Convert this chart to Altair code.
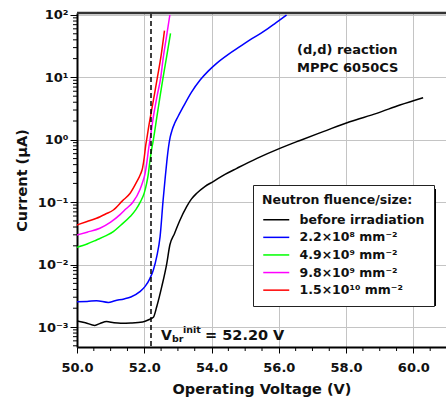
import altair as alt
import pandas as pd

FONT = "DejaVu Sans"
TXT = "#111111"

series_names = ["before irradiation", "2.2×10⁸ mm⁻²", "4.9×10⁹ mm⁻²",
                "9.8×10⁹ mm⁻²", "1.5×10¹⁰ mm⁻²"]
series_colors = ["#000000", "#0000ff", "#00ff00", "#ff00ff", "#ff0000"]

# before irradiation
v_before = [50.0, 50.25, 50.53, 50.7, 50.88, 51.1, 51.3, 51.6, 51.95, 52.15,
            52.27, 52.37, 52.52, 52.67, 52.76, 52.9, 53.05, 53.26, 53.4, 53.56,
            53.8, 54.05, 54.4, 54.75, 55.35, 56.03, 56.63, 57.32, 58.11, 58.91,
            59.6, 60.29]
i_before = [1.25e-3, 1.17e-3, 1.06e-3, 1.15e-3, 1.22e-3, 1.17e-3, 1.15e-3, 1.16e-3,
            1.20e-3, 1.32e-3, 1.43e-3, 2.11e-3, 4.43e-3, 0.0105, 0.0206, 0.0316,
            0.0501, 0.0851, 0.112, 0.139, 0.178, 0.214, 0.279, 0.349, 0.505, 0.730,
            0.977, 1.35, 1.95, 2.65, 3.61, 4.73]

# 2.2e8 mm^-2
v_blue = [50.0, 50.3, 50.58, 50.93, 51.13, 51.4, 51.6, 51.87, 52.02, 52.17,
          52.27, 52.37, 52.47, 52.56, 52.62, 52.67, 52.72, 52.77, 52.83, 52.9,
          53.0, 53.16, 53.4, 53.66, 53.9, 54.15, 54.5, 54.84, 55.2, 55.54,
          55.9, 56.23]
i_blue = [2.55e-3, 2.57e-3, 2.64e-3, 2.48e-3, 2.64e-3, 2.82e-3, 3.02e-3, 3.68e-3,
          4.43e-3, 6.03e-3, 8.18e-3, 0.0134, 0.028, 0.108, 0.240, 0.447, 0.759,
          1.10, 1.45, 1.82, 2.34, 3.39, 5.75, 9.08, 12.6, 16.8, 23.4, 31.0, 41.7,
          54.1, 74.1, 100.0]

# 4.9e9 mm^-2
v_green = [50.0, 50.3, 50.58, 50.85, 51.08, 51.3, 51.58, 51.75, 51.88, 52.0,
           52.07, 52.12, 52.17, 52.22, 52.27, 52.37, 52.47, 52.56, 52.67, 52.78]
i_green = [0.0189, 0.0214, 0.0248, 0.0288, 0.0337, 0.0427, 0.0589, 0.0759, 0.1,
           0.141, 0.2, 0.282, 0.468, 0.708, 1.0, 2.24, 5.01, 10.0, 22.4, 50.9]

# 9.8e9 mm^-2
v_mag = [50.0, 50.3, 50.68, 51.0, 51.28, 51.45, 51.66, 51.87, 51.95, 52.02,
         52.08, 52.12, 52.17, 52.27, 52.38, 52.49, 52.56, 52.66, 52.76]
i_mag = [0.0298, 0.0331, 0.0382, 0.0479, 0.0631, 0.0776, 0.1, 0.158, 0.209,
         0.282, 0.447, 0.661, 1.0, 2.34, 5.01, 10.0, 20.0, 44.7, 100.0]

# 1.5e10 mm^-2
v_red = [50.0, 50.3, 50.58, 50.85, 51.08, 51.35, 51.58, 51.77, 51.88, 51.95,
         52.0, 52.04, 52.07, 52.12, 52.2, 52.3, 52.39, 52.5, 52.6]
i_red = [0.0432, 0.049, 0.0552, 0.0646, 0.075, 0.105, 0.139, 0.209, 0.275,
         0.355, 0.525, 0.794, 1.0, 1.48, 2.63, 5.25, 10.0, 22.4, 56.2]

x_major = [50, 52, 54, 56, 58, 60]
x_minor = [50.5 + 0.5 * k for k in range(21) if (50.5 + 0.5 * k) % 2 != 0]
y_major = [0.001, 0.01, 0.1, 1, 10, 100]
y_minor = [m * 10.0 ** e for e in range(-4, 2) for m in range(2, 10)
           if 4.8e-4 <= m * 10.0 ** e <= 100]
vbr = [52.2]

rows = []
for name, vs, cs in zip(series_names,
                        [v_before, v_blue, v_green, v_mag, v_red],
                        [i_before, i_blue, i_green, i_mag, i_red]):
    for v, c in zip(vs, cs):
        rows.append({"series": name, "V": v, "I": c})
df = pd.DataFrame(rows)

W, H = 369, 334
xscale = alt.Scale(domain=[50, 60.97], nice=False, zero=False)
yscale = alt.Scale(type="log", domain=[10 ** -3.3205, 10 ** 2.032], nice=False)

sup = "['⁻³','⁻²','⁻¹','⁰','¹','²'][round(log(datum.value)/LN10)+3]"

lines = alt.Chart(df).mark_line(strokeWidth=1.5, interpolate="monotone").encode(
    x=alt.X("V:Q", scale=xscale,
            axis=alt.Axis(values=x_major, format=".1f", title="Operating Voltage (V)",
                          tickSize=6, labelPadding=8, titlePadding=8)),
    y=alt.Y("I:Q", scale=yscale,
            axis=alt.Axis(values=y_major, labelExpr="'10' + " + sup,
                          title="Current (μA)", tickSize=7, labelPadding=2,
                          titlePadding=8)),
    color=alt.Color("series:N", sort=series_names,
                    scale=alt.Scale(domain=series_names, range=series_colors),
                    legend=alt.Legend(
                        title="Neutron fluence/size:", orient="none",
                        legendX=176, legendY=172, fillColor="white",
                        strokeColor="#222222", padding=9,
                        titleFont=FONT, labelFont=FONT, titleFontSize=12.5,
                        labelFontSize=12.5, titleFontWeight="bold",
                        labelFontWeight="bold", titleColor=TXT, labelColor=TXT,
                        symbolType="M-1,0H4.2", symbolSize=100,
                        symbolStrokeWidth=1.5, rowPadding=4.6, titlePadding=7,
                        labelOffset=25, labelLimit=400)),
    order=alt.Order("V:Q"),
)

vline = alt.Chart(pd.DataFrame({"v": vbr})).mark_rule(
    color="black", strokeWidth=1.5, strokeDash=[5, 3]).encode(x=alt.X("v:Q", scale=xscale))

xminor = alt.Chart(pd.DataFrame({"v": x_minor})).mark_rule(
    color="black", strokeWidth=1).encode(
    x=alt.X("v:Q", scale=xscale), y=alt.value(H), y2=alt.value(H + 4))

yminor = alt.Chart(pd.DataFrame({"v": y_minor})).mark_rule(
    color="black", strokeWidth=1).encode(
    y=alt.Y("v:Q", scale=yscale), x=alt.value(-4), x2=alt.value(0))

one = pd.DataFrame({"a": [0]})
top = alt.Chart(one).mark_rule(color="#333333", strokeWidth=2.5).encode(
    x=alt.value(0), x2=alt.value(W), y=alt.value(0))

shadow = alt.Chart(one).mark_rect(color="black").encode(
    x=alt.value(180), x2=alt.value(359), y=alt.value(176), y2=alt.value(293))


def txt(s, x, y, size, align="left", baseline="alphabetic"):
    return alt.Chart(one).mark_text(
        text=s, font=FONT, fontWeight="bold", fontSize=size, color=TXT,
        align=align, baseline=baseline).encode(x=alt.value(x), y=alt.value(y))


texts = [
    txt("(d,d) reaction", 220, 41, 13),
    txt("MPPC 6050CS", 220, 59, 13),
    txt("V", 84, 326.5, 14),
    txt("br", 95, 328.5, 9.5),
    txt("init", 106, 319.5, 9.5),
    txt("= 52.20 V", 128, 326.5, 14.5),
]

chart = alt.layer(lines, vline, xminor, yminor, top, shadow, *texts).properties(
    width=W, height=H,
    padding={"left": 77, "top": 13, "right": 0, "bottom": 52},
    autosize=alt.AutoSizeParams(type="none"),
    background="white",
).configure_view(stroke=None).configure_axis(
    domainColor="black", domainWidth=2, tickColor="black", tickWidth=1,
    gridColor="#c4c4c4", gridWidth=1,
    labelFont=FONT, labelFontSize=13, labelFontWeight="bold", labelColor=TXT,
    titleFont=FONT, titleFontSize=14.5, titleFontWeight="bold", titleColor=TXT,
    labelFlush=False,
)

chart.save("out.html", embed_options={"renderer": "svg", "actions": False})
